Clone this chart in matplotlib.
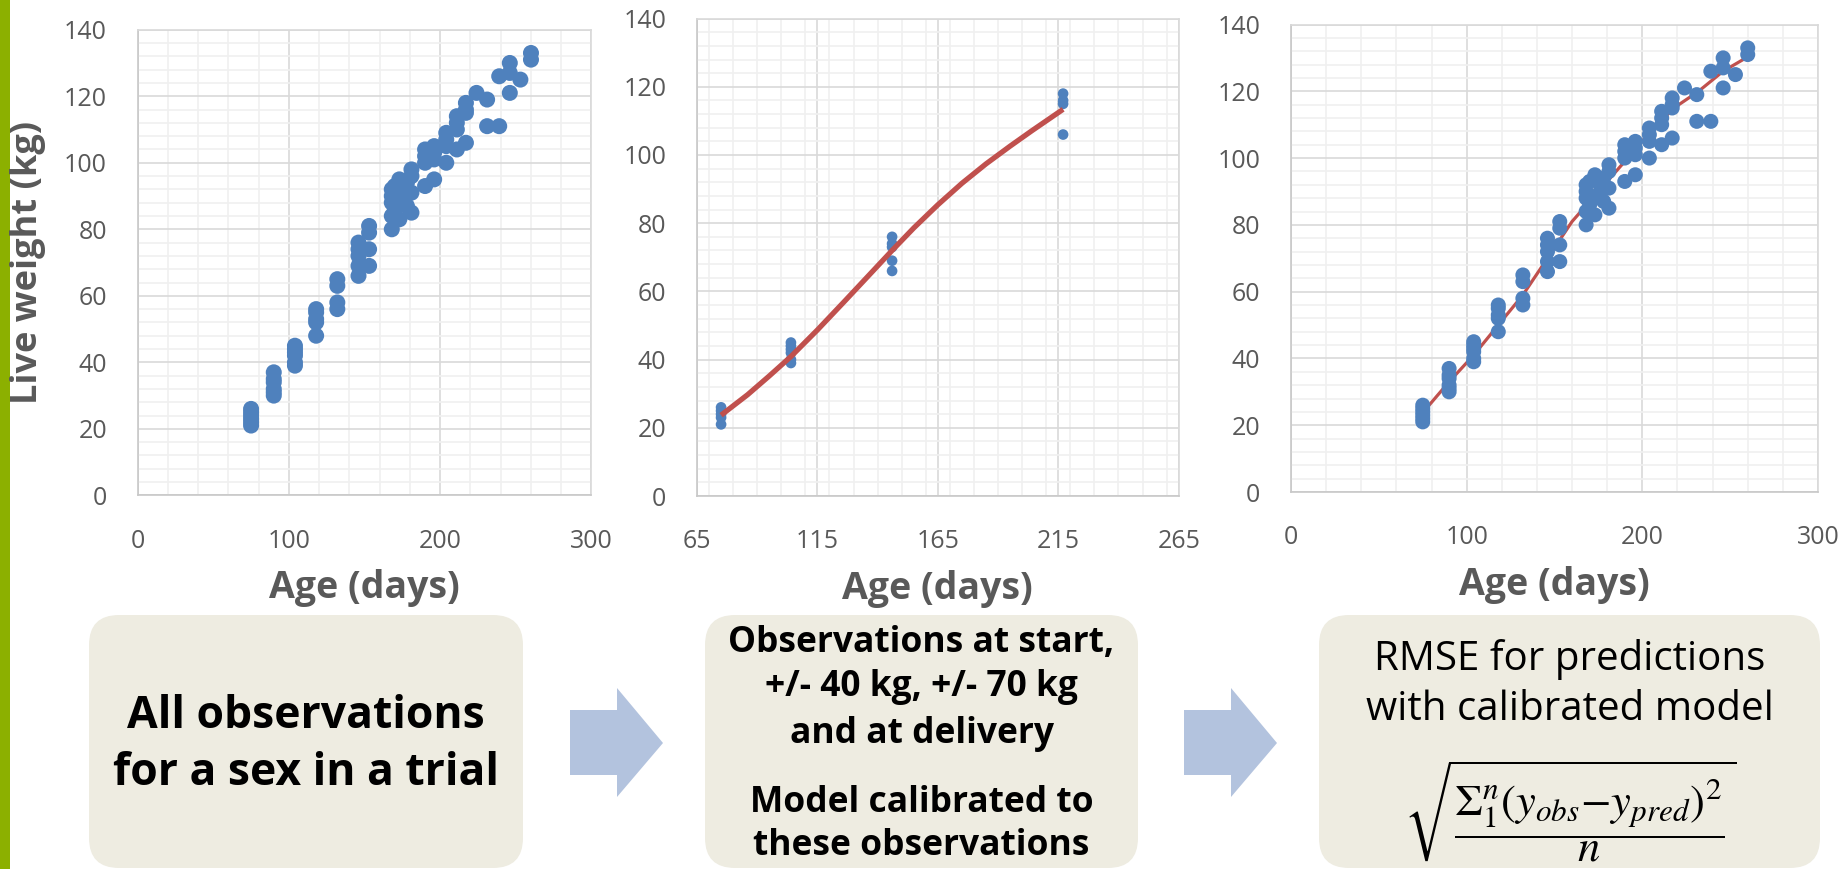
import matplotlib
matplotlib.use("Agg")
import matplotlib.pyplot as plt
from matplotlib.patches import FancyBboxPatch, Polygon, Rectangle
from matplotlib.ticker import MultipleLocator

plt.rcParams['font.family'] = ['Open Sans', 'DejaVu Sans']
plt.rcParams['mathtext.fontset'] = 'stix'

# ---------------- data ----------------
# All observations (age in days, live weight in kg)
all_age = ([75] * 6 + [90] * 6 + [104] * 6 + [118] * 5 + [132] * 4 + [146] * 5 + [153] * 4
           + [168] * 5 + [170] * 2 + [173] * 3 + [176] * 2 + [178] * 2 + [181] * 4
           + [190] * 4 + [196] * 4 + [204] * 4 + [211] * 4 + [217] * 4 + [224]
           + [231] * 2 + [239] * 2 + [246] * 3 + [253] + [260] * 2)
all_weight = [21, 22, 23, 24, 25, 26,
              30, 31, 32, 34, 35, 37,
              39, 40, 42, 43, 44, 45,
              48, 52, 53, 55, 56,
              56, 58, 63, 65,
              66, 69, 72, 74, 76,
              69, 74, 79, 81,
              80, 84, 88, 90, 92,
              86, 93,
              83, 88, 95,
              90, 92,
              87, 94,
              85, 91, 96, 98,
              93, 100, 102, 104,
              95, 101, 103, 105,
              100, 105, 107, 109,
              104, 110, 112, 114,
              106, 115, 116, 118,
              121,
              111, 119,
              111, 126,
              121, 127, 130,
              125,
              131, 133]

# Observations used for calibration
cal_age = [75] * 5 + [104] * 6 + [146] * 5 + [217] * 4
cal_weight = [21, 23, 24, 25, 26,
              39, 40, 42, 43, 44, 45,
              66, 69, 73, 74, 76,
              106, 115, 116, 118]

# Model curve calibrated to the selected observations (middle panel)
fit2_age = [75, 86, 95, 104, 115, 126, 137, 146, 155, 165, 175, 185, 195, 204, 217]
fit2_weight = [23.7, 29.7, 35.2, 40.9, 48.7, 56.9, 65.2, 72.0, 78.6, 85.4, 91.7, 97.4,
               102.6, 107.1, 113.4]

# Model predictions over all observation ages (right panel)
fit3_age = [77, 90, 104, 118, 132, 146, 160, 175, 190, 204, 218, 232, 246, 259]
fit3_weight = [25, 33, 41, 50, 59, 70, 81, 90, 99, 107.5, 115, 120, 126, 130]

x_ticks_wide = [0, 100, 200, 300]
x_ticks_cal = [65, 115, 165, 215, 265]
y_ticks = [0, 20, 40, 60, 80, 100, 120, 140]

box1_lines = ["All observations", "for a sex in a trial"]
box2_lines = ["Observations at start,", "+/- 40 kg, +/- 70 kg", "and at delivery",
              "Model calibrated to", "these observations"]
box3_lines = ["RMSE for predictions", "with calibrated model"]
formula = r'$\sqrt{\dfrac{\Sigma_1^n(y_{obs}{-}y_{pred})^2}{n}}$'

# ---------------- style ----------------
BLUE = '#4f81bd'
RED = '#c0504d'
GRAY_TXT = '#595959'
GRID_MAJ = '#d9d9d9'
GRID_MIN = '#f0f0f0'
BOX = '#eeece1'
ARROW = '#b3c3de'
GREEN = '#8cb000'

W, H = 1847, 869
fig = plt.figure(figsize=(W / 100, H / 100), dpi=100)


def px_axes(left, top, right, bottom):
    return fig.add_axes([left / W, 1 - bottom / H, (right - left) / W, (bottom - top) / H])


def style(ax, xlim, xmin, xticks):
    ax.set_xlim(*xlim)
    ax.set_ylim(0, 140)
    ax.set_xticks(xticks)
    ax.set_yticks(y_ticks)
    ax.xaxis.set_minor_locator(MultipleLocator(xmin))
    ax.yaxis.set_minor_locator(MultipleLocator(4))
    ax.set_axisbelow(True)
    ax.grid(which='minor', color=GRID_MIN, lw=1.2)
    ax.grid(which='major', color=GRID_MAJ, lw=1.2)
    ax.tick_params(which='both', length=0, labelsize=18, labelcolor=GRAY_TXT)
    ax.tick_params(axis='y', pad=22)
    ax.tick_params(axis='x', pad=24)
    for s in ax.spines.values():
        s.set_color(GRID_MAJ)
        s.set_linewidth(1.2)
    ax.spines['left'].set_color('#c8c8c8')
    ax.spines['bottom'].set_color('#c8c8c8')
    ax.set_xlabel('Age (days)', fontsize=27, fontweight='bold', color=GRAY_TXT, labelpad=11)


# Panel 1: all observations
ax1 = px_axes(137.6, 29.7, 591.5, 495.4)
style(ax1, (0, 300), 20, x_ticks_wide)
ax1.scatter(all_age, all_weight, s=133, color=BLUE, edgecolors='none', zorder=3)
ax1.set_ylabel('Live weight (kg)', fontsize=26, fontweight='bold', color=GRAY_TXT, labelpad=13)

# Panel 2: calibration observations + model
ax2 = px_axes(697, 18.6, 1178.7, 496)
style(ax2, (65, 265), 10, x_ticks_cal)
ax2.scatter(cal_age, cal_weight, s=59, color=BLUE, edgecolors='none', zorder=3)
ax2.plot(fit2_age, fit2_weight, color=RED, lw=3.8, zorder=4, solid_capstyle='butt',
         solid_joinstyle='round')

# Panel 3: all observations with calibrated model
ax3 = px_axes(1291, 24.5, 1818, 492)
style(ax3, (0, 300), 20, x_ticks_wide)
ax3.plot(fit3_age, fit3_weight, color=RED, lw=2.3, zorder=2.5, solid_joinstyle='round')
ax3.scatter(all_age, all_weight, s=117, color=BLUE, edgecolors='none', zorder=3)

# ---------------- overlay: boxes, arrows, texts ----------------
ov = fig.add_axes([0, 0, 1, 1], zorder=-1)
ov.set_xlim(0, W)
ov.set_ylim(H, 0)
ov.set_axis_off()

ov.add_patch(Rectangle((0, 0), 10, H, color=GREEN, lw=0))

for (x0, x1) in [(89, 523), (705, 1138), (1319, 1820)]:
    ov.add_patch(FancyBboxPatch((x0, 615), x1 - x0, 253,
                                boxstyle='round,pad=0,rounding_size=30',
                                facecolor=BOX, edgecolor='none'))

for dx in [0, 614]:
    pts = [(570 + dx, 710), (617 + dx, 710), (617 + dx, 688), (663 + dx, 743),
           (617 + dx, 797), (617 + dx, 775), (570 + dx, 775)]
    ov.add_patch(Polygon(pts, closed=True, facecolor=ARROW, edgecolor='none'))

for line, yb in zip(box1_lines, [728, 785]):
    ov.text(306, yb, line, ha='center', va='baseline', fontsize=32,
            fontweight='bold', color='black')

for line, yb in zip(box2_lines, [652, 696, 743, 812, 855]):
    ov.text(921.5, yb, line, ha='center', va='baseline', fontsize=25.5,
            fontweight='bold', color='black')

for line, yb in zip(box3_lines, [670, 720]):
    ov.text(1570, yb, line, ha='center', va='baseline', fontsize=29, color='black')

ov.text(1570, 812, formula, ha='center', va='center', fontsize=32, color='black')

fig.savefig('out.png', dpi=100)
